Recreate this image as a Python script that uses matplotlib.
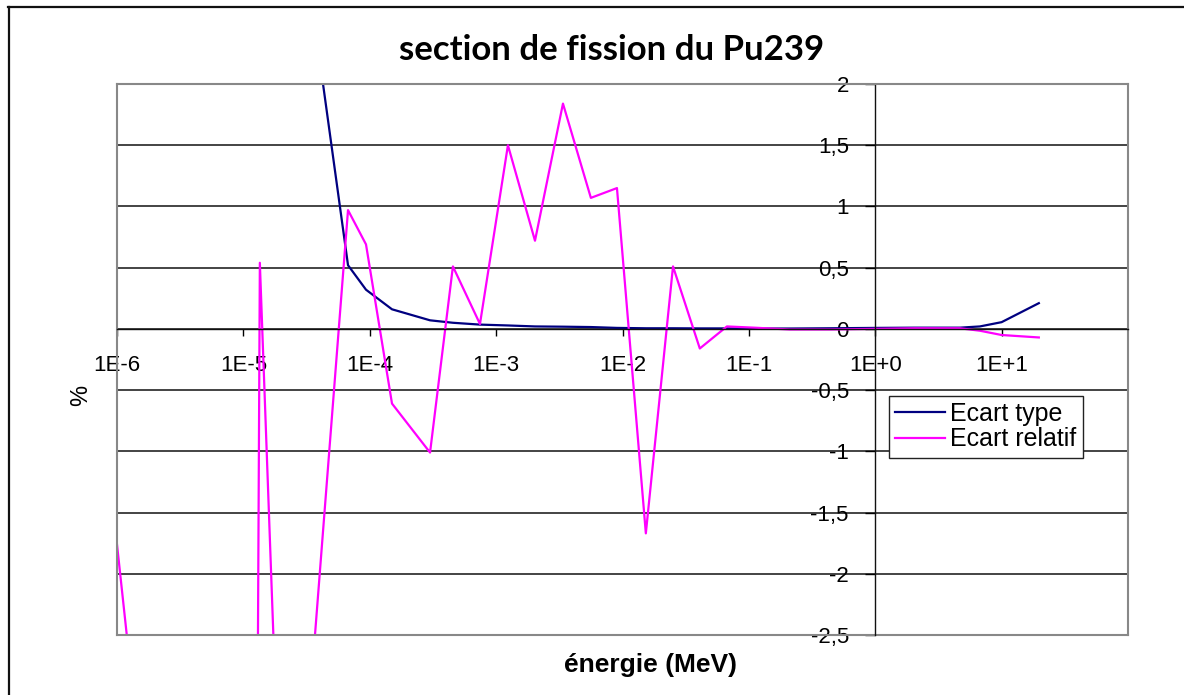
import numpy as np
import matplotlib
matplotlib.use('Agg')
import matplotlib.pyplot as plt
from matplotlib.lines import Line2D
from matplotlib.ticker import FixedLocator, NullLocator, FuncFormatter

# energies (MeV)
energie = [1.0e-6, 1.52e-6, 4.54e-6, 1.24e-5, 1.35e-5, 1.95e-5, 2.81e-5, 4.19e-5,
           6.73e-5, 9.34e-5, 1.50e-4, 3.0e-4, 4.55e-4, 7.45e-4, 1.24e-3, 2.03e-3,
           3.38e-3, 5.62e-3, 9.04e-3, 1.53e-2, 2.51e-2, 4.09e-2, 6.70e-2, 0.110,
           0.211, 0.437, 1.0, 2.06, 4.67, 6.73, 10.0, 19.7]

ecart_type = [60, 45, 25, 12, 11, 7, 4.5, 2.06,
              0.52, 0.32, 0.16, 0.07, 0.05, 0.035, 0.028, 0.02,
              0.018, 0.015, 0.008, 0.005, 0.005, 0.004, 0.004, 0.003,
              0.003, 0.005, 0.008, 0.01, 0.01, 0.02, 0.055, 0.21]

ecart_relatif = [-1.76, -3.5, -5.0, -7.0, 0.54, -4.0, -4.07, -1.76,
                 0.97, 0.69, -0.61, -1.01, 0.51, 0.04, 1.50, 0.72,
                 1.84, 1.07, 1.15, -1.67, 0.51, -0.16, 0.02, 0.01,
                 -0.005, -0.005, 0.0, 0.005, 0.005, -0.015, -0.05, -0.07]

x_ticks = [1e-6, 1e-5, 1e-4, 1e-3, 1e-2, 1e-1, 1e0, 1e1]
x_labels = ['1E-6', '1E-5', '1E-4', '1E-3', '1E-2', '1E-1', '1E+0', '1E+1']
y_ticks = [-2.5, -2, -1.5, -1, -0.5, 0, 0.5, 1, 1.5, 2]

W, H = 1184, 695
fig = plt.figure(figsize=(W / 100, H / 100), dpi=100)
ax = fig.add_axes([117 / W, 1 - 635 / H, 1011 / W, 551 / H])

ax.plot(energie, ecart_type, color='#000080', lw=1.6, label='Ecart type')
ax.plot(energie, ecart_relatif, color='#FF00FF', lw=1.6, label='Ecart relatif')

ax.set_xscale('log')
ax.set_xlim(1e-6, 1e2)
ax.set_ylim(-2.5, 2)

for y in y_ticks:
    ax.axhline(y, color='#111111', lw=1.1, zorder=0)

# cadre gris
for s in ['top', 'right']:
    ax.spines[s].set_color('#888888')
    ax.spines[s].set_linewidth(1.5)
ax.add_line(Line2D([0, 0], [0, 1], transform=ax.transAxes, color='#888888', lw=1.5, clip_on=False))
ax.add_line(Line2D([0, 1], [0, 0], transform=ax.transAxes, color='#888888', lw=1.5, clip_on=False))

# axes qui se croisent en (1E+0, 0)
ax.spines['left'].set_position(('data', 1.0))
ax.spines['bottom'].set_position(('data', 0))
ax.spines['left'].set_color('#111111')
ax.spines['bottom'].set_color('#111111')
ax.spines['left'].set_linewidth(1.0)
ax.spines['bottom'].set_linewidth(1.0)

ax.xaxis.set_major_locator(FixedLocator(x_ticks))
ax.xaxis.set_minor_locator(NullLocator())
ax.set_xticklabels(x_labels)
ax.yaxis.set_major_locator(FixedLocator(y_ticks))
ax.yaxis.set_major_formatter(FuncFormatter(lambda v, p: ('%g' % v).replace('.', ',')))

ax.tick_params(axis='x', direction='out', length=5, width=1, pad=14,
               labelsize=16, labelfontfamily='Liberation Sans')
ax.tick_params(axis='y', direction='out', length=7, width=1, pad=12,
               labelsize=16, labelfontfamily='Liberation Sans')

fig.text(612 / W, 1 - 50 / H, 'section de fission du Pu239', ha='center', va='center',
         fontsize=25, fontweight='bold', family='Lato')
fig.text(650 / W, 1 - 665 / H, 'énergie (MeV)', ha='center', va='center',
         fontsize=19, fontweight='bold', family='Liberation Sans')
fig.text(81 / W, 1 - 395 / H, '%', ha='center', va='center', rotation=90,
         fontsize=17, family='Liberation Sans')

leg = ax.legend(loc='upper left', bbox_to_anchor=(0.7636, 0.4338), borderaxespad=0,
                fancybox=False, framealpha=1, edgecolor='#222222',
                prop={'family': 'Liberation Sans', 'size': 18},
                handlelength=2.0, handletextpad=0.2, labelspacing=0.05,
                borderpad=0.25)
leg.get_frame().set_linewidth(1.0)

# bordure extérieure
fig.add_artist(Line2D([8.5 / W, 8.5 / W], [0, 1 - 7 / H], transform=fig.transFigure, color='#111111', lw=1.6))
fig.add_artist(Line2D([8 / W, 1], [1 - 7 / H, 1 - 7 / H], transform=fig.transFigure, color='#111111', lw=1.6))

fig.savefig('out.png', dpi=100)
